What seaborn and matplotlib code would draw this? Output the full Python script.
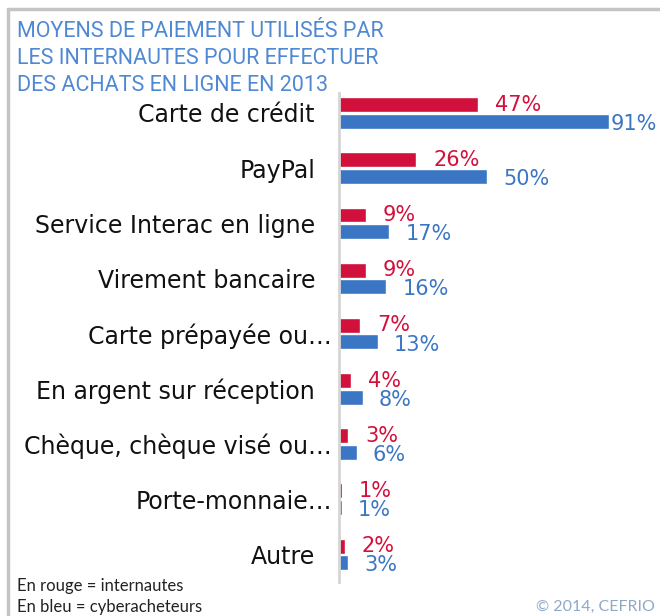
import matplotlib
matplotlib.use("Agg")
import matplotlib.pyplot as plt
import matplotlib.transforms as mtransforms
import seaborn as sns
import pandas as pd
from matplotlib.lines import Line2D

categories = ["Carte de crédit", "PayPal", "Service Interac en ligne", "Virement bancaire",
              "Carte prépayée ou…", "En argent sur réception", "Chèque, chèque visé ou…",
              "Porte-monnaie…", "Autre"]
internautes = [47, 26, 9, 9, 7, 4, 3, 1, 2]
cyberacheteurs = [91, 50, 17, 16, 13, 8, 6, 1, 3]
series = ["internautes", "cyberacheteurs"]
title_lines = ["MOYENS DE PAIEMENT UTILISÉS PAR", "LES INTERNAUTES POUR EFFECTUER",
               "DES ACHATS EN LIGNE EN 2013"]

RED = "#D2103C"
BLUE = "#3B76C4"
TITLE_C = "#5089D3"

sns.set_theme(style="white")
plt.rcParams['font.family'] = ['DejaVu Sans']

df = pd.DataFrame({
    "cat": categories * 2,
    "val": internautes + cyberacheteurs,
    "serie": [series[0]] * len(categories) + [series[1]] * len(categories),
})

fig = plt.figure(figsize=(6.6, 6.16), dpi=100)
W, H = 660, 616
ax = fig.add_axes([339 / W, 34 / H, 296.7 / W, 489 / H])
sns.barplot(data=df, y="cat", x="val", hue="serie", order=categories, hue_order=series,
            palette=[RED, BLUE], orient="h", width=0.6, gap=0.1, ax=ax,
            legend=False, saturation=1)
ax.set_xlim(0, 100)
ax.set_ylim(8.5, -0.36)
ax.set_xlabel("")
ax.set_ylabel("")
ax.set_xticks([])
for s in ["top", "right", "bottom"]:
    ax.spines[s].set_visible(False)
ax.spines["left"].set_color("#D5D5D5")
ax.spines["left"].set_linewidth(2)
ax.tick_params(axis="y", length=0, pad=24 * 0.72)
shift = mtransforms.ScaledTranslation(17 / 100, 0, fig.dpi_scale_trans)
for lab in ax.get_yticklabels():
    lab.set_fontsize(17)
    lab.set_color("#111111")
    if lab.get_text().endswith("…"):
        lab.set_transform(lab.get_transform() + shift)

px = 100 / 296.7  # data units per pixel
for i, (r, b) in enumerate(zip(internautes, cyberacheteurs)):
    ax.text(r + 17 * px, i - 0.15, f"{r}%", color=RED, fontsize=15, va="center", ha="left")
    bx = min(b + 16 * px, 91 + 2 * px)
    ax.text(bx, i + 0.2, f"{b}%", color=BLUE, fontsize=15, va="center", ha="left")

for k, line in enumerate(title_lines):
    fig.text(17 / W, 1 - (37 + 27 * k) / H, line, color=TITLE_C, fontsize=15.5,
             family="Roboto", fontweight="normal", va="baseline", ha="left")

fig.text(17 / W, 1 - 586 / H, "En rouge = internautes", fontsize=12, family="Lato",
         color="#222222", va="center")
fig.text(17 / W, 1 - 607 / H, "En bleu = cyberacheteurs", fontsize=12, family="Lato",
         color="#222222", va="center")
fig.text(655 / W, 1 - 607 / H, "© 2014, CEFRIO", fontsize=11.5, family="Lato",
         color="#8FA8C8", va="center", ha="right")

fig.add_artist(Line2D([7.5 / W, 1], [1 - 8.5 / H, 1 - 8.5 / H], color="#C4C4C4", lw=2.5,
                      transform=fig.transFigure))
fig.add_artist(Line2D([7.5 / W, 7.5 / W], [0, 1 - 8.5 / H], color="#C4C4C4", lw=2.5,
                      transform=fig.transFigure))

fig.savefig("out.png", dpi=100)
